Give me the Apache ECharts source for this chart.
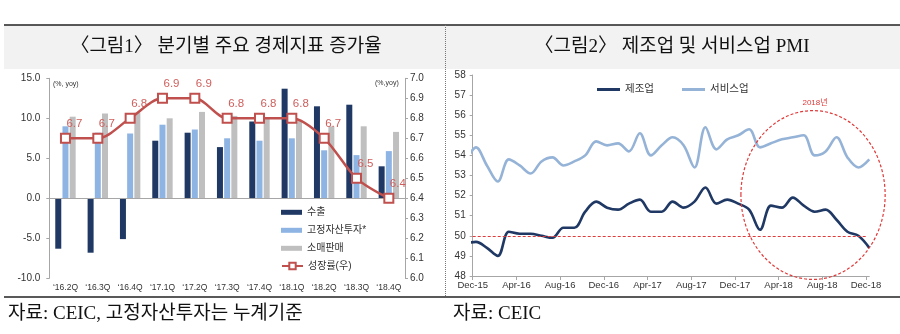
<!DOCTYPE html>
<html><head><meta charset="utf-8">
<script src="https://cdn.jsdelivr.net/npm/echarts@6/dist/echarts.min.js"></script>
<style>html,body{margin:0;padding:0;background:#fff}#c{width:900px;height:334px}</style>
</head><body><div id="c"></div>
<script>
// ---- Figure 1 data (quarterly, % yoy) ----
const quarters = ['‘16.2Q','‘16.3Q','‘16.4Q','‘17.1Q','‘17.2Q','‘17.3Q','‘17.4Q','‘18.1Q','‘18.2Q','‘18.3Q','‘18.4Q'];
const exportsYoY = [-6.3, -6.8, -5.1, 7.2, 8.2, 6.4, 9.6, 13.7, 11.5, 11.7, 4.0];
const faiYoY     = [9.0, 8.2, 8.1, 9.2, 8.6, 7.5, 7.2, 7.5, 6.0, 5.4, 5.9];
const retailYoY  = [10.2, 10.6, 10.7, 10.0, 10.8, 10.3, 9.9, 9.8, 9.0, 9.0, 8.3];
const gdpYoY     = [6.7, 6.7, 6.8, 6.9, 6.9, 6.8, 6.8, 6.8, 6.7, 6.5, 6.4];

// ---- Figure 2 data (monthly PMI) ----
const pmiMonths = ['Nov-15','Dec-15',
  'Jan-16','Feb-16','Mar-16','Apr-16','May-16','Jun-16','Jul-16','Aug-16','Sep-16','Oct-16','Nov-16','Dec-16',
  'Jan-17','Feb-17','Mar-17','Apr-17','May-17','Jun-17','Jul-17','Aug-17','Sep-17','Oct-17','Nov-17','Dec-17',
  'Jan-18','Feb-18','Mar-18','Apr-18','May-18','Jun-18','Jul-18','Aug-18','Sep-18','Oct-18','Nov-18','Dec-18'];
const mfgPMI = [49.6, 49.7,
  49.4, 49.0, 50.2, 50.1, 50.1, 50.0, 49.9, 50.4, 50.4, 51.2, 51.7, 51.4,
  51.3, 51.6, 51.8, 51.2, 51.2, 51.7, 51.4, 51.7, 52.4, 51.6, 51.8, 51.6,
  51.3, 50.3, 51.5, 51.4, 51.9, 51.5, 51.2, 51.3, 50.8, 50.2, 50.0, 49.4];
const svcPMI = [53.6, 54.4,
  53.5, 52.7, 53.8, 53.5, 53.1, 53.7, 53.9, 53.5, 53.7, 54.0, 54.7, 54.5,
  54.6, 54.2, 55.1, 54.0, 54.5, 54.9, 54.5, 53.4, 55.4, 54.3, 54.8, 55.0,
  55.3, 54.4, 54.6, 54.8, 54.9, 55.0, 54.0, 54.2, 54.9, 53.9, 53.4, 53.8];
const pmiTickLabels = ['Dec-15','Apr-16','Aug-16','Dec-16','Apr-17','Aug-17','Dec-17','Apr-18','Aug-18','Dec-18'];

// month index relative to Dec-15 (0); data sit a little after the month tick
const firstTickMonth = 'Dec-15';
const pointShift = 0.3;
const base = pmiMonths.indexOf(firstTickMonth);
const toX = i => i - base + pointShift;
const tickValues = pmiTickLabels.map(l => pmiMonths.indexOf(l) - base);
const xMax = tickValues[tickValues.length - 1] + pointShift;

const C_DARK = '#1f3864', C_BLUE = '#8eb4e3', C_GRAY = '#bfbfbf', C_RED = '#c0504d';
const C_PMI_DARK = '#1f3864', C_PMI_LIGHT = '#95b3d7', C_ANN = '#e03a3a';
const AX = '#a6a6a6';
const SERIF = "'Liberation Serif','Noto Sans CJK KR',serif";
const SANS = "'Liberation Sans','Noto Sans CJK KR',sans-serif";

const chart = echarts.init(document.getElementById('c'), null, {renderer: 'canvas', width: 900, height: 334});

const option = {
  animation: false,
  textStyle: {fontFamily: SANS},
  grid: [
    {left: 49.3, right: 495, top: 78.3, bottom: 55.7},
    {left: 472.7, right: 30.7, top: 75, bottom: 58}
  ],
  legend: [
    {data: ['수출', '고정자산투자*', '소매판매'], orient: 'vertical', left: 281, top: 206.3, padding: 0,
     itemWidth: 21, itemHeight: 5, icon: 'rect', itemGap: 6, selectedMode: false,
     textStyle: {fontSize: 10, lineHeight: 12, color: '#333', fontFamily: SANS}},
    {data: ['성장률(우)'], orient: 'vertical', left: 281, top: 260, padding: 0,
     itemWidth: 21, itemHeight: 8, itemGap: 6, selectedMode: false,
     textStyle: {fontSize: 10, lineHeight: 12, color: '#333', fontFamily: SANS}},
    {data: ['제조업', '서비스업'], orient: 'horizontal', left: 597, top: 83.5, padding: 0,
     itemWidth: 23, itemHeight: 3, icon: 'rect', itemGap: 28, selectedMode: false,
     textStyle: {fontSize: 10.5, lineHeight: 12, color: '#333', fontFamily: SANS}}
  ],
  xAxis: [
    {type: 'category', gridIndex: 0, data: quarters, position: 'bottom',
     axisLine: {show: false, onZero: false}, axisTick: {show: false},
     axisLabel: {fontSize: 8.5, color: '#333', margin: 5, interval: 0}},
    {type: 'value', gridIndex: 1, min: 0, max: xMax, splitLine: {show: false},
     axisLine: {onZero: false, lineStyle: {color: AX}},
     axisTick: {show: true, length: 4, lineStyle: {color: AX}, customValues: tickValues},
     axisLabel: {customValues: tickValues, fontSize: 9.5, color: '#333', margin: 5,
       formatter: v => pmiTickLabels[tickValues.indexOf(Math.round(v))] || ''}}
  ],
  yAxis: [
    {type: 'value', gridIndex: 0, min: -10, max: 15, interval: 5, position: 'left',
     splitLine: {show: false}, axisLine: {show: true, lineStyle: {color: AX}},
     axisTick: {show: true, length: 3, lineStyle: {color: AX}},
     axisLabel: {fontSize: 10, color: '#333', margin: 9, formatter: v => v.toFixed(1)}},
    {type: 'value', gridIndex: 0, min: 6.0, max: 7.0, interval: 0.1, position: 'right',
     splitLine: {show: false}, axisLine: {show: true, lineStyle: {color: AX}},
     axisTick: {show: true, length: 3, lineStyle: {color: AX}},
     axisLabel: {fontSize: 10, color: '#333', margin: 5, formatter: v => v.toFixed(1)}},
    {type: 'value', gridIndex: 1, min: 48, max: 58, interval: 1, position: 'left',
     splitLine: {show: false}, axisLine: {show: true, lineStyle: {color: AX}},
     axisTick: {show: true, length: 3, lineStyle: {color: AX}},
     axisLabel: {fontSize: 10, color: '#333', margin: 7}}
  ],
  series: [
    {name: '수출', type: 'bar', xAxisIndex: 0, yAxisIndex: 0, data: exportsYoY,
     barWidth: 6, barGap: '20%', itemStyle: {color: C_DARK},
     markLine: {silent: true, symbol: 'none', label: {show: false},
       lineStyle: {color: AX, width: 1, type: 'solid'}, data: [{yAxis: 0}]}},
    {name: '고정자산투자*', type: 'bar', xAxisIndex: 0, yAxisIndex: 0, data: faiYoY,
     barWidth: 6, barGap: '20%', itemStyle: {color: C_BLUE}},
    {name: '소매판매', type: 'bar', xAxisIndex: 0, yAxisIndex: 0, data: retailYoY,
     barWidth: 6, barGap: '20%', itemStyle: {color: C_GRAY}},
    {name: '성장률(우)', type: 'line', xAxisIndex: 0, yAxisIndex: 1, data: gdpYoY, z: 5,
     smooth: 0.3, symbol: 'rect', symbolSize: 9,
     lineStyle: {color: C_RED, width: 2.5},
     itemStyle: {color: '#fff', borderColor: C_RED, borderWidth: 2},
     label: {show: true, position: 'top', distance: 3, offset: [9, 0], color: '#cf5f5c',
       fontSize: 11.5, formatter: p => p.value.toFixed(1)}},
    {name: '제조업', type: 'line', xAxisIndex: 1, yAxisIndex: 2, z: 4,
     data: mfgPMI.map((v, i) => [toX(i), v]), smooth: 0.35, symbol: 'none', clip: true,
     lineStyle: {color: C_PMI_DARK, width: 2.6}, itemStyle: {color: C_PMI_DARK},
     markLine: {silent: true, symbol: 'none', label: {show: false},
       lineStyle: {color: C_ANN, width: 1.2, type: [3, 2]},
       data: [[{coord: [0, 50]}, {coord: [tickValues[tickValues.length - 1], 50]}]]}},
    {name: '서비스업', type: 'line', xAxisIndex: 1, yAxisIndex: 2, z: 3,
     data: svcPMI.map((v, i) => [toX(i), v]), smooth: 0.35, symbol: 'none', clip: true,
     lineStyle: {color: C_PMI_LIGHT, width: 2.6}, itemStyle: {color: C_PMI_LIGHT}}
  ]
};
chart.setOption(option);

// annotation ellipse around 2018 (in data space of figure 2)
const ellCenter = [31.15, 52.03], ellHalf = [6.6, 4.2];
const pc = chart.convertToPixel({xAxisIndex: 1, yAxisIndex: 2}, ellCenter);
const pr = chart.convertToPixel({xAxisIndex: 1, yAxisIndex: 2}, [ellCenter[0] + ellHalf[0], ellCenter[1] + ellHalf[1]]);
const rx = Math.abs(pr[0] - pc[0]), ry = Math.abs(pc[1] - pr[1]);

chart.setOption({
  graphic: [
    {type: 'rect', z: -10, shape: {x: 4, y: 25, width: 896, height: 44}, style: {fill: '#f2f2f2'}},
    {type: 'line', shape: {x1: 4, y1: 25, x2: 900, y2: 25}, style: {stroke: '#222', lineWidth: 1.5}},
    {type: 'line', shape: {x1: 4, y1: 297, x2: 900, y2: 297}, style: {stroke: '#222', lineWidth: 1.5}},
    {type: 'line', shape: {x1: 445.5, y1: 25, x2: 445.5, y2: 297}, style: {stroke: '#777', lineWidth: 1, lineDash: [1, 1]}},
    {type: 'text', x: 226, y: 47, style: {text: '〈그림1〉 분기별 주요 경제지표 증가율', font: "19px " + SERIF, fill: '#111', textAlign: 'center', textVerticalAlign: 'middle'}},
    {type: 'text', x: 672, y: 47, style: {text: '〈그림2〉 제조업 및 서비스업 PMI', font: "19px " + SERIF, fill: '#111', textAlign: 'center', textVerticalAlign: 'middle'}},
    {type: 'text', x: 8, y: 314, style: {text: '자료: CEIC, 고정자산투자는 누계기준', font: "19px " + SERIF, fill: '#111', textAlign: 'left', textVerticalAlign: 'middle'}},
    {type: 'text', x: 453, y: 314, style: {text: '자료: CEIC', font: "19px " + SERIF, fill: '#111', textAlign: 'left', textVerticalAlign: 'middle'}},
    {type: 'text', x: 53, y: 84.5, style: {text: '(%, yoy)', font: "7px " + SANS, fill: '#333', textAlign: 'left', textVerticalAlign: 'middle'}},
    {type: 'text', x: 375, y: 83, style: {text: '(%,yoy)', font: "7px " + SANS, fill: '#333', textAlign: 'left', textVerticalAlign: 'middle'}},
    {type: 'ellipse', z: 10, shape: {cx: pc[0], cy: pc[1], rx: rx, ry: ry},
     style: {fill: 'none', stroke: C_ANN, lineWidth: 1.2, lineDash: [3, 2]}},
    {type: 'text', z: 10, x: pc[0] + 2, y: pc[1] - ry - 8, style: {text: '2018년', font: "8px " + SANS, fill: C_ANN, textAlign: 'center', textVerticalAlign: 'middle'}}
  ]
});
</script>
</body></html>
